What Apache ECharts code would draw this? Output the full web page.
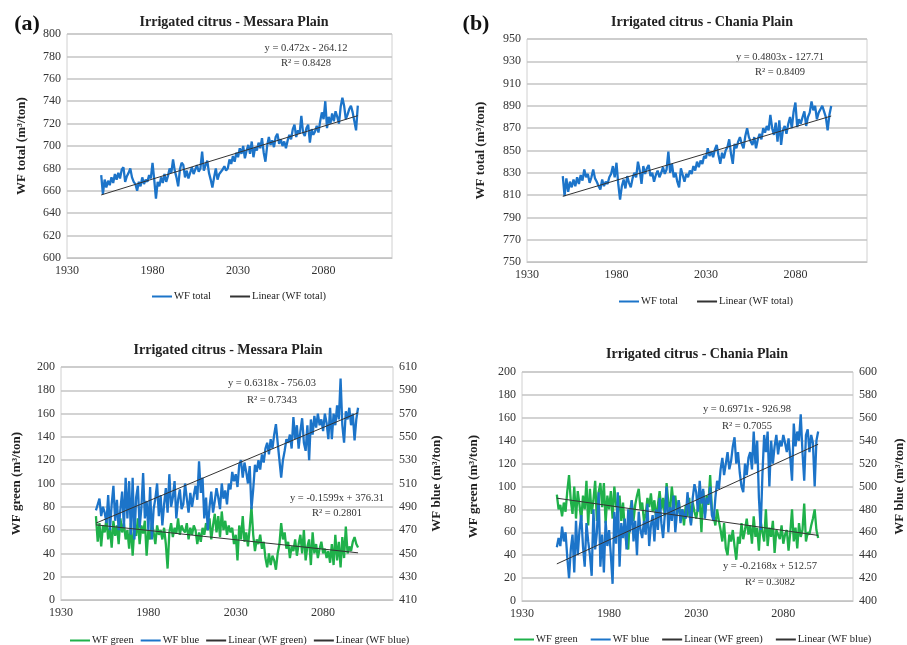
<!DOCTYPE html>
<html>
<head>
<meta charset="utf-8">
<script src="https://cdn.jsdelivr.net/npm/echarts@6/dist/echarts.min.js"></script>
<style>
  html, body { margin: 0; padding: 0; background: #fff; }
  #chart { width: 907px; height: 645px; }
</style>
</head>
<body>
<div id="chart"></div>
<script>
// annual values 1950..2100
const years = Array.from({ length: 151 }, (_, i) => 1950 + i);

const messaraTotal = [
  674, 657, 670, 663, 669, 665, 672, 667, 675, 670,
  676, 671, 679, 681, 668, 673, 676, 680, 672, 668,
  666, 660, 668, 664, 672, 666, 670, 668, 674, 671,
  685, 670, 653, 668, 664, 672, 667, 675, 668, 673,
  680, 676, 688, 678, 672, 664, 679, 685, 683, 672,
  678, 671, 676, 681, 675, 679, 683, 677, 680, 695,
  678, 683, 687, 676, 670, 663, 672, 680, 670, 675,
  676, 679, 682, 678, 680, 688, 684, 691, 686, 694,
  690, 698, 693, 700, 689, 696, 701, 693, 704, 690,
  699, 696, 703, 698, 707, 694, 686, 700, 708, 701,
  705, 699, 708, 711, 702, 706, 700, 704, 698, 705,
  710, 706, 715, 719, 708, 714, 711, 727, 712, 709,
  716, 719, 703, 715, 710, 713, 718, 712, 722, 730,
  724, 740, 716, 726, 720, 729, 722, 731, 726, 720,
  735, 743, 736, 724, 728, 733, 736, 730, 722, 714, 736
];

const chaniaTotal = [
  827, 809, 825, 813, 822, 817, 824, 818, 826, 820,
  828, 823, 833, 826, 829, 821, 826, 833, 825, 822,
  818, 815, 824, 818, 822, 820, 826, 829, 836, 826,
  839, 820, 806, 818, 824, 816, 827, 821, 817, 825,
  830, 826, 840, 832, 820, 836, 829, 834, 837, 827,
  830, 822, 828, 832, 826, 830, 835, 829, 833, 849,
  830, 838, 826, 830, 822, 817, 834, 828, 822, 829,
  826, 832, 829, 836, 832, 840, 835, 841, 838, 845,
  843, 852, 845, 849, 844, 851, 855, 846, 838, 848,
  843, 850, 853, 860, 847, 838, 856, 852, 858, 862,
  856, 852, 863, 870, 862, 858, 855, 862, 852, 860,
  865, 860, 870, 866, 872, 868, 882, 870, 864, 875,
  858, 877, 855, 868, 872, 865, 874, 880, 870, 885,
  893, 871, 878, 874, 880, 885, 872, 880, 884, 894,
  886, 890, 878, 884, 887, 890, 885, 880, 868, 882, 890
];

const messaraGreen = [
  72, 50, 66, 46, 64, 58, 70, 52, 62, 45,
  68, 55, 64, 48, 70, 58, 66, 52, 60, 44,
  66, 38, 62, 55, 70, 48, 64, 57, 68, 38,
  60, 52, 66, 58, 48, 64, 56, 60, 52, 62,
  48, 27, 58, 66, 54, 62, 57, 70, 56, 64,
  60, 58, 66, 52, 62, 56, 64, 60, 48, 58,
  50, 62, 56, 66, 60, 70, 52, 64, 74, 58,
  72, 54, 76, 60, 68, 56, 64, 58, 62, 48,
  56, 34, 64, 52, 72, 50, 58, 46, 62, 80,
  56, 42, 52, 48, 56, 44, 50, 36, 28, 40,
  30, 38, 34, 26, 40, 48, 66, 52, 58, 44,
  50, 36, 46, 42, 52, 38, 48, 56, 40, 60,
  34, 46, 52, 30, 58, 40, 48, 36, 44, 50,
  40, 44, 36, 42, 32, 48, 30, 56, 34, 50,
  28, 54, 36, 63, 40, 46, 42, 50, 54, 48, 45
];

const messaraBlue = [
  487, 492, 497, 482, 490, 485, 476, 500, 470, 492,
  508, 478, 496, 470, 488, 503, 472, 515, 480, 512,
  466, 515, 462, 498, 508, 472, 489, 519, 480, 495,
  470, 507, 462, 488, 497, 510, 482, 500, 474, 492,
  506, 485, 518, 490, 498, 512, 480, 496, 505, 488,
  492, 510, 497, 485, 502, 490, 500, 508, 496, 529,
  502, 515, 480, 498, 470, 490, 503, 485, 495, 506,
  498, 488, 510, 497, 504, 492, 510, 505, 520, 512,
  518, 507, 526, 530, 515, 528, 520, 510, 525, 488,
  505, 526, 520, 530, 522, 535, 528, 540, 545, 535,
  548, 540, 552, 561, 545, 530, 515, 530, 538, 548,
  545, 552, 540, 567, 548, 560, 540, 555, 566, 545,
  538, 560, 530, 565, 552, 568, 558, 570, 560, 565,
  555, 570, 562, 548, 575, 548, 570, 560, 577, 565,
  600, 560, 545, 572, 565, 575, 560, 570, 547, 565, 575
];

const chaniaGreen = [
  93, 80, 84, 74, 86, 78, 96, 110, 88, 76,
  100, 72, 96, 84, 70, 92, 80, 105, 66, 98,
  76, 88, 105, 70, 95, 103, 82, 103, 68, 92,
  80, 96, 72, 100, 84, 76, 92, 70, 86, 62,
  50, 45, 78, 88, 70, 84, 92, 98, 80, 86,
  70, 76, 90, 82, 94, 78, 88, 72, 84, 96,
  80, 90, 74, 103, 86, 78, 100, 84, 92, 76,
  88, 70, 80, 66, 84, 74, 90, 68, 86, 78,
  72, 82, 88, 60, 96, 76, 92, 84, 110, 80,
  74, 66, 80, 70, 62, 52, 68, 46, 40, 58,
  52, 62, 48, 36, 56, 50, 68, 54, 62, 72,
  58, 66, 50, 74, 56, 64, 44, 70, 60, 52,
  80, 48, 64, 56, 70, 42, 62, 58, 54, 66,
  50, 58, 62, 44, 60, 80, 52, 64, 46, 68,
  56, 62, 85, 52, 60, 58, 66, 72, 80, 62, 55
];

const chaniaBlue = [
  447, 455, 448, 465, 452, 460, 438, 420, 445, 458,
  425, 470, 440, 462, 475, 448, 430, 468, 452, 440,
  422, 480, 445, 460, 495, 430, 458, 425, 470, 448,
  462, 440, 415, 478, 450, 495, 430, 468, 455, 472,
  445, 480, 460, 488, 452, 470, 440, 478, 462, 455,
  470, 458, 485, 448, 466, 475, 452, 480, 462, 490,
  468, 455, 476, 500, 460, 482, 470, 492, 460, 478,
  488, 468, 480, 475, 472, 495, 478, 466, 490, 502,
  495, 478, 505, 485, 498, 472, 490, 485, 500, 475,
  470, 490, 505, 498, 515, 525, 510, 520, 530, 515,
  522, 535, 543, 520, 530, 512, 500, 495, 520, 510,
  525, 530, 515, 548, 520, 540, 490, 462, 510, 545,
  530, 548, 500, 540, 520, 535, 545, 528, 540, 535,
  545, 538, 530, 542, 525, 505, 555, 535, 548, 540,
  563, 530, 505, 545, 550, 530, 545, 538, 500, 540, 548
];

// trend line end points (1950, 2100) from the printed equations
const trendYears = [1950, 2100];
const trendMessaraTotal = [656.3, 727.1];
const trendChaniaTotal = [808.9, 880.9];
const trendMessaraGreen = [64.5, 40.5];
const trendMessaraBlue = [476.0, 570.7];
const trendChaniaGreen = [89.8, 57.3];
const trendChaniaBlue = [432.4, 536.9];

const BLUE = "#1c74c9";
const GREEN = "#1fb14a";
const SERIF = "Liberation Serif";

const pair = (xs, ys) => xs.map((x, i) => [x, ys[i]]);

const chart = echarts.init(document.getElementById("chart"));

const xAxisBase = gridIndex => ({
  type: "value",
  gridIndex,
  min: 1930,
  max: 2120,
  interval: 50,
  axisLine: { lineStyle: { color: "#c4c4c4" } },
  axisTick: { show: false },
  splitLine: { show: false },
  axisLabel: {
    color: "#333", fontFamily: SERIF, fontSize: 12, margin: 7, showMaxLabel: false,
    formatter: v => String(v)
  }
});

const yAxisBase = (gridIndex, min, max, name, pos) => ({
  type: "value",
  gridIndex,
  position: pos || "left",
  min,
  max,
  interval: 20,
  name,
  nameLocation: "middle",
  nameRotate: 90,
  nameGap: 38,
  nameTextStyle: { fontFamily: SERIF, fontWeight: "bold", fontSize: 13, color: "#222" },
  axisLine: { show: false },
  axisTick: { show: false },
  splitLine: pos === "right" ? { show: false } : { lineStyle: { color: "#c4c4c4", width: 1.5 } },
  axisLabel: { color: "#333", fontFamily: SERIF, fontSize: 12, margin: 6 }
});

const dataLine = (name, xi, yi, data, color) => ({
  name,
  type: "line",
  xAxisIndex: xi,
  yAxisIndex: yi,
  data,
  symbol: "none",
  lineStyle: { color, width: 2.3 },
  itemStyle: { color },
  animation: false
});

const trendLine = (name, xi, yi, data) => ({
  name,
  type: "line",
  xAxisIndex: xi,
  yAxisIndex: yi,
  data,
  symbol: "none",
  lineStyle: { color: "#333", width: 1 },
  itemStyle: { color: "#333" },
  z: 5,
  animation: false
});

const titleStyle = { fontFamily: SERIF, fontWeight: "bold", fontSize: 14, color: "#222" };
const legendBase = {
  itemWidth: 20,
  itemHeight: 10,
  itemGap: 10,
  itemStyle: { opacity: 0 },
  textStyle: { fontFamily: SERIF, fontSize: 10.5, color: "#222", padding: [0, 0, 0, -3] }
};

const eq = (text, x, y) => ({
  type: "text",
  x,
  y,
  style: { text, font: "10.5px 'Liberation Serif'", fill: "#333", align: "center", verticalAlign: "middle" }
});

chart.setOption({
  backgroundColor: "#fff",
  animation: false,
  title: [
    { text: "Irrigated citrus - Messara Plain", left: 229, top: 10, textAlign: "center", textStyle: titleStyle },
    { text: "Irrigated citrus - Chania Plain", left: 697, top: 10, textAlign: "center", textStyle: titleStyle },
    { text: "Irrigated citrus - Messara Plain", left: 223, top: 338, textAlign: "center", textStyle: titleStyle },
    { text: "Irrigated citrus - Chania Plain", left: 692, top: 342, textAlign: "center", textStyle: titleStyle }
  ],
  grid: [
    { left: 67, top: 34, width: 325, height: 224, show: true, borderColor: "#d0d0d0", borderWidth: 1 },
    { left: 527, top: 39, width: 340, height: 223, show: true, borderColor: "#d0d0d0", borderWidth: 1 },
    { left: 61, top: 367, width: 332, height: 233, show: true, borderColor: "#d0d0d0", borderWidth: 1 },
    { left: 522, top: 372, width: 341, height: 229, show: true, borderColor: "#d0d0d0", borderWidth: 1 }
  ],
  xAxis: [xAxisBase(0), xAxisBase(1), xAxisBase(2), xAxisBase(3)],
  yAxis: [
    Object.assign(yAxisBase(0, 600, 800, "WF total (m³/ton)"), { nameGap: 39 }),
    Object.assign(yAxisBase(1, 750, 950, "WF total (m³/ton)"), { nameGap: 40 }),
    Object.assign(yAxisBase(2, 0, 200, "WF green (m³/ton)"), { nameGap: 38 }),
    Object.assign(yAxisBase(2, 410, 610, "WF blue (m³/ton)", "right"), { nameGap: 37 }),
    Object.assign(yAxisBase(3, 0, 200, "WF green (m³/ton)"), { nameGap: 42 }),
    Object.assign(yAxisBase(3, 400, 600, "WF blue (m³/ton)", "right"), { nameGap: 40 })
  ],
  legend: [
    Object.assign({}, legendBase, { left: 146, top: 286, itemGap: 18, data: ["WF total", "Linear (WF total)"] }),
    Object.assign({}, legendBase, { left: 613, top: 291, itemGap: 18, data: ["WF total", "Linear (WF total)"] }),
    Object.assign({}, legendBase, { left: 64, top: 630, itemGap: 6, data: ["WF green", "WF blue", "Linear (WF green)", "Linear (WF blue)"] }),
    Object.assign({}, legendBase, { left: 508, top: 629, itemGap: 12, width: 395, data: ["WF green", "WF blue", "Linear (WF green)", "Linear (WF blue)"] })
  ],
  series: [
    dataLine("WF total", 0, 0, pair(years, messaraTotal), BLUE),
    trendLine("Linear (WF total)", 0, 0, pair(trendYears, trendMessaraTotal)),
    dataLine("WF total", 1, 1, pair(years, chaniaTotal), BLUE),
    trendLine("Linear (WF total)", 1, 1, pair(trendYears, trendChaniaTotal)),
    dataLine("WF green", 2, 2, pair(years, messaraGreen), GREEN),
    dataLine("WF blue", 2, 3, pair(years, messaraBlue), BLUE),
    trendLine("Linear (WF green)", 2, 2, pair(trendYears, trendMessaraGreen)),
    trendLine("Linear (WF blue)", 2, 3, pair(trendYears, trendMessaraBlue)),
    dataLine("WF green", 3, 4, pair(years, chaniaGreen), GREEN),
    dataLine("WF blue", 3, 5, pair(years, chaniaBlue), BLUE),
    trendLine("Linear (WF green)", 3, 4, pair(trendYears, trendChaniaGreen)),
    trendLine("Linear (WF blue)", 3, 5, pair(trendYears, trendChaniaBlue))
  ],
  graphic: [
    { type: "text", x: 27, y: 24, style: { text: "(a)", font: "bold 22px 'Liberation Serif'", fill: "#111", align: "center", verticalAlign: "middle" } },
    { type: "text", x: 476, y: 24, style: { text: "(b)", font: "bold 22px 'Liberation Serif'", fill: "#111", align: "center", verticalAlign: "middle" } },
    eq("y = 0.472x - 264.12", 306, 48),
    eq("R² = 0.8428", 306, 63),
    eq("y = 0.4803x - 127.71", 780, 57),
    eq("R² = 0.8409", 780, 72),
    eq("y = 0.6318x - 756.03", 272, 383),
    eq("R² = 0.7343", 272, 400),
    eq("y = -0.1599x + 376.31", 337, 498),
    eq("R² = 0.2801", 337, 513),
    eq("y = 0.6971x - 926.98", 747, 409),
    eq("R² = 0.7055", 747, 426),
    eq("y = -0.2168x + 512.57", 770, 566),
    eq("R² = 0.3082", 770, 582)
  ]
});
</script>
</body>
</html>
